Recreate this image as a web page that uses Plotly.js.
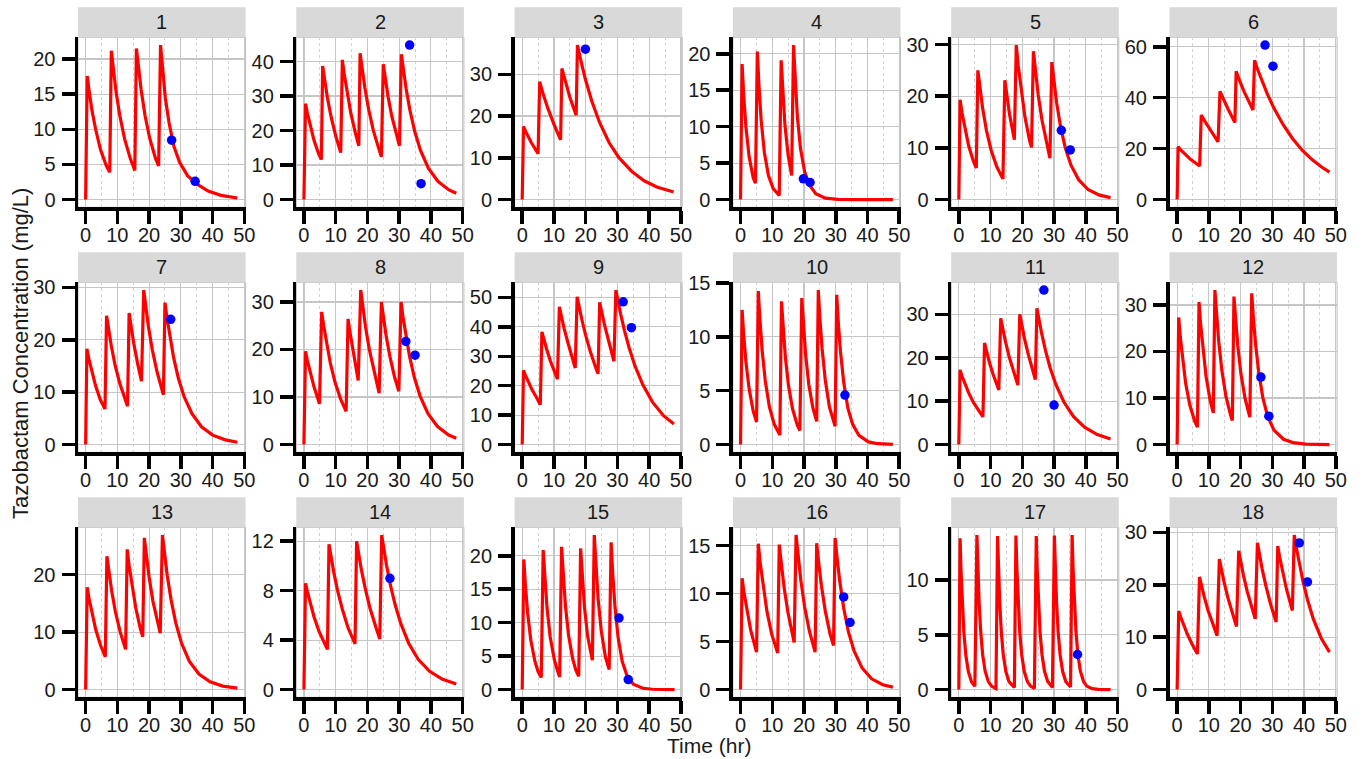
<!DOCTYPE html>
<html><head><meta charset="utf-8">
<script src="https://cdn.plot.ly/plotly-3.0.1.min.js"></script>
<style>html,body{margin:0;padding:0;background:#fff;} #chart{width:1362px;height:759px;}</style>
</head><body><div id="chart"></div>
<script>
const panelLabels = ['1','2','3','4','5','6','7','8','9','10','11','12','13','14','15','16','17','18'];
const yTickStep = [5,10,10,5,10,20,10,10,10,5,10,10,10,4,5,5,5,10];
const xTicks = [0,10,20,30,40,50];

const curveTime = [
 [0,0.5,1.1,2.0,3.2,4.7,6.5,7.6,8.1,8.7,9.6,10.8,12.3,14.1,15.5,16.0,16.6,17.5,18.7,20.2,22.0,23.0,23.6,24.2,25.1,26.3,27.8,29.6,32.1,35.1,38.6,42.6,47.8],
 [0,0.5,1.1,2.0,3.2,4.7,5.5,5.9,6.5,7.4,8.6,10.1,11.6,12.1,12.7,13.6,14.8,16.3,17.3,17.7,18.3,19.2,20.4,21.9,23.7,24.4,25.0,25.6,26.5,27.7,29.2,30.1,30.7,31.3,32.2,33.4,34.9,36.7,39.2,42.2,45.7,48.0],
 [0,0.4,1.4,2.9,5.0,5.5,6.5,8.0,10.0,12.1,12.5,13.5,15.0,17.0,17.4,18.4,19.9,21.9,24.4,27.4,30.4,34.4,38.4,42.4,47.7],
 [0,0.5,1.0,1.7,2.7,4.0,4.7,5.3,5.8,6.5,7.5,8.8,10.3,12.2,12.8,13.3,14.0,15.0,16.1,16.7,17.2,17.9,18.9,20.2,21.7,23.7,26.7,30.7,36.0,48.0],
 [0,0.4,1.0,1.9,3.1,4.6,5.5,6.0,6.6,7.5,8.7,10.2,12.0,13.9,14.5,15.1,16.0,17.5,18.1,18.7,19.6,20.8,22.3,22.9,23.5,24.1,25.0,26.2,27.7,28.7,29.3,29.9,30.8,32.0,33.5,35.3,37.8,40.8,44.3,47.8],
 [0,0.3,1.3,2.8,4.3,7.1,7.6,8.6,10.1,12.9,13.5,14.5,16.0,18.2,18.6,19.6,21.1,23.9,24.4,25.4,26.9,28.4,30.4,33.4,36.4,39.4,42.4,45.4,48.0],
 [0,0.4,1.0,1.9,3.1,4.6,6.1,6.6,7.2,8.1,9.3,10.8,12.6,13.2,13.7,14.3,15.2,16.4,17.6,18.3,18.9,19.8,21.0,22.5,24.5,25.0,25.6,26.5,27.7,29.2,31.0,33.5,36.5,40.0,44.0,47.8],
 [0,0.5,1.1,2.0,3.2,4.9,5.6,6.2,7.1,8.3,9.8,11.6,13.3,13.9,14.5,15.4,17.1,17.9,18.5,19.4,20.6,22.1,23.7,24.4,25.0,25.9,27.1,28.6,29.9,30.6,31.2,32.1,33.3,34.8,36.6,39.1,42.1,45.6,48.0],
 [0,0.4,1.0,1.9,3.1,4.6,5.7,6.2,6.8,7.7,8.9,10.4,11.1,11.7,12.3,13.2,14.4,15.9,16.7,17.3,17.9,18.8,20.0,21.5,23.3,23.9,24.4,25.0,25.9,27.1,28.9,29.5,30.1,31.0,32.2,33.7,35.5,38.0,41.0,44.5,47.8],
 [0,0.5,1.0,1.7,2.7,4.0,5.05,5.6,6.1,6.8,7.8,9.1,10.6,12.4,12.9,13.4,14.1,15.1,16.4,17.9,18.7,19.3,19.8,20.5,21.5,22.8,24.0,24.5,25.0,25.7,26.7,28.0,29.8,30.3,30.8,31.5,32.5,33.8,35.3,37.3,40.3,43.3,48.0],
 [0,0.4,1.0,1.9,3.1,4.6,6.4,7.6,8.1,8.7,9.6,10.8,12.6,13.2,13.8,14.7,15.9,17.4,18.6,19.2,19.8,20.7,21.9,23.4,24.1,24.6,25.2,26.1,27.3,28.8,30.6,33.1,36.1,39.6,43.6,47.8],
 [0,0.5,1.0,1.7,2.7,4.0,5.5,6.4,6.9,7.4,8.1,9.1,10.4,11.4,11.9,12.4,13.1,14.1,15.4,16.9,17.4,17.9,18.4,19.1,20.1,21.4,22.9,23.5,24.0,24.7,25.7,27.0,28.5,30.5,33.5,36.5,40.5,48.0],
 [0,0.5,1.1,2.0,3.2,4.7,6.2,6.7,7.3,8.2,9.4,10.9,12.6,13.1,13.7,14.6,15.8,17.3,18.0,18.5,19.1,20.0,21.2,22.7,23.5,24.2,24.8,25.7,26.9,28.4,30.2,32.7,35.7,39.2,43.2,47.8],
 [0,0.5,1.1,2.0,3.2,4.7,6.5,7.4,7.9,8.5,9.4,10.6,12.1,13.9,16.1,16.6,17.2,18.1,19.3,20.8,22.6,23.9,24.5,25.1,26.0,27.2,28.7,30.5,33.0,36.0,39.5,43.5,48.0],
 [0,0.5,1.0,1.7,2.7,4.0,5.0,6.0,6.6,7.1,7.8,8.8,10.1,11.0,11.8,12.4,12.9,13.6,14.6,15.9,16.9,17.8,18.4,18.9,19.6,20.6,21.4,22.1,22.7,23.2,23.9,24.9,26.2,27.4,28.0,28.5,29.2,30.2,31.5,33.0,35.0,38.0,41.0,48.0],
 [0,0.5,1.1,2.0,3.2,5.05,5.6,6.2,7.1,8.3,9.8,11.7,12.2,12.8,13.7,14.9,16.9,17.5,18.1,19.0,20.2,21.7,23.5,24.0,24.6,25.5,26.7,28.2,29.3,29.8,30.4,31.3,32.5,34.0,35.8,38.3,41.3,44.8,48.0],
 [0,0.4,0.7,1.1,1.6,2.2,3.0,4.0,5.05,5.7,6.0,6.4,6.9,7.5,8.3,9.3,10.3,11.7,12.2,12.5,12.9,13.4,14.0,14.8,15.8,17.5,18.0,18.3,18.7,19.2,19.8,20.6,21.6,22.6,23.8,24.4,24.7,25.1,25.6,26.2,27.0,28.0,29.5,30.1,30.4,30.8,31.3,31.9,32.7,33.7,35.2,35.7,36.0,36.4,36.9,37.5,38.3,39.3,40.3,42.0,44.0,47.8],
 [0,0.5,1.1,2.0,3.2,4.7,6.4,7.05,7.65,8.55,9.75,11.25,12.6,13.3,13.9,14.8,16.0,17.5,18.7,19.4,20.0,20.9,22.1,23.6,24.6,25.3,25.9,26.8,28.0,29.5,31.2,31.7,32.3,33.2,34.4,36.3,36.9,37.5,38.4,39.6,41.1,42.9,45.4,48.0]
];

const curveConc = [
 [0,17.6,15.5,12.7,9.9,7.1,4.85,3.9,21.2,18.6,15.3,11.9,8.6,5.8,4.15,21.5,18.9,15.6,12.0,8.7,5.9,4.8,22.0,18.5,14.5,10.9,7.6,5.3,3.4,2.2,1.2,0.6,0.22],
 [0,27.8,25.0,21.2,17.1,13.1,11.6,38.7,34.8,29.5,23.8,18.2,13.6,40.5,36.4,30.9,24.9,19.0,15.6,42.4,38.1,32.4,26.1,19.9,14.4,12.4,39.2,35.2,29.9,24.1,18.4,15.6,42.1,37.8,32.1,25.9,19.8,14.3,9.1,5.3,2.8,1.85],
 [0,17.5,15.8,13.6,11.0,28.2,25.5,22.0,18.0,14.3,31.4,28.4,24.5,20.2,37.0,33.5,28.8,23.6,18.4,13.6,10.1,6.8,4.5,3.0,1.8],
 [0,18.6,14.3,10.0,5.9,3.0,2.25,20.3,15.7,10.9,6.5,3.3,1.5,0.55,19.1,14.7,10.2,6.1,3.3,21.2,16.3,11.4,7.0,3.8,2.0,0.8,0.2,0.03,0.0,0.0],
 [0,19.3,16.8,13.7,10.4,7.4,6.1,25.0,21.8,17.7,13.4,9.5,6.3,4.0,23.1,20.1,16.4,11.6,29.9,26.0,21.2,16.1,11.4,10.1,28.7,25.0,20.3,15.4,10.9,8.0,26.6,23.2,18.8,14.3,10.1,6.7,3.8,1.9,0.85,0.38],
 [0,20.7,19.3,17.4,15.7,13.2,33.2,31.0,27.9,22.7,42.5,39.7,35.7,30.3,50.4,47.0,42.4,35.2,54.7,51.0,46.0,41.5,36.2,29.4,23.9,19.4,15.8,12.9,10.8],
 [0,18.3,16.4,14.0,11.3,8.6,6.8,24.6,22.1,18.8,15.1,11.6,8.4,7.3,25.1,22.5,19.2,15.4,12.1,29.5,26.5,22.5,18.1,13.9,9.5,27.1,24.3,20.7,16.7,12.7,9.2,5.9,3.4,1.8,0.9,0.45],
 [0,19.6,17.6,15.0,12.1,8.6,27.9,25.1,21.3,17.2,13.1,9.5,7.0,26.4,23.7,20.1,13.5,32.5,29.2,24.8,20.0,15.3,10.8,30.0,26.9,22.9,18.5,14.1,11.2,30.0,26.9,22.9,18.5,14.1,10.2,6.5,3.8,2.0,1.35],
 [0,25.2,23.6,21.3,18.6,15.8,13.5,38.3,35.8,32.4,28.3,23.9,22.2,46.8,43.8,39.5,34.6,29.3,26.0,50.2,46.9,42.4,37.1,31.4,25.7,24.1,48.3,45.2,40.8,35.7,28.3,52.5,49.1,44.4,38.8,32.8,26.8,20.3,14.5,9.8,7.0],
 [0,12.5,10.2,7.7,5.2,3.1,2.1,14.25,11.7,8.8,5.9,3.5,1.9,0.9,13.3,10.9,8.2,5.5,3.3,1.8,1.3,13.6,11.1,8.4,5.6,3.4,2.15,14.35,11.75,8.9,6.0,3.5,1.7,13.9,11.4,8.6,5.8,3.4,1.9,0.85,0.25,0.08,0.01],
 [0,17.2,15.8,14.0,11.9,9.7,7.6,6.4,23.4,21.6,19.0,16.2,12.6,29.1,26.8,23.7,20.1,16.4,13.7,30.0,27.6,24.4,20.7,16.9,15.0,31.4,28.9,25.6,21.7,17.6,13.8,9.8,6.5,4.0,2.3,1.3],
 [0,27.3,23.1,18.3,13.1,8.5,5.1,3.75,30.6,25.9,20.5,14.7,9.5,6.8,33.2,28.1,22.2,15.9,10.3,6.2,5.2,31.8,26.9,21.3,15.2,9.9,5.9,32.5,27.5,21.7,15.6,10.1,6.1,3.1,1.14,0.42,0.11,0.01],
 [0,17.8,15.8,13.2,10.4,7.7,5.7,23.2,20.6,17.2,13.5,10.0,7.0,24.4,21.6,18.1,14.2,10.5,9.2,26.4,23.4,19.6,15.4,11.4,9.8,26.9,23.9,19.9,15.7,11.6,8.1,4.9,2.7,1.34,0.6,0.24],
 [0,8.6,7.9,6.96,5.87,4.75,3.68,3.25,11.75,10.8,9.5,8.0,6.5,5.0,3.7,12.0,11.0,9.7,8.2,6.6,5.1,4.1,12.5,11.5,10.1,8.5,6.9,5.35,3.75,2.45,1.5,0.85,0.45],
 [0,19.45,15.6,11.5,7.4,4.2,2.7,1.8,20.85,16.7,12.3,7.9,4.5,3.0,1.9,21.35,17.1,12.6,8.1,4.6,2.9,2.0,21.1,16.9,12.4,8.0,5.7,4.4,23.1,18.5,13.6,8.8,4.9,3.0,22.0,17.4,12.5,7.8,4.2,2.1,0.8,0.2,0.05,0.0],
 [0,11.6,10.1,8.2,6.2,3.9,15.2,13.2,10.8,8.2,5.8,3.8,15.1,13.2,10.7,8.1,4.9,16.1,14.0,11.4,8.6,6.1,3.9,15.25,13.3,10.8,8.2,5.8,4.6,15.8,13.8,11.2,8.5,6.0,4.0,2.25,1.12,0.5,0.25],
 [0,13.8,10.8,7.8,5.2,3.15,1.64,0.72,0.3,14.1,11.0,7.9,5.3,3.2,1.68,0.73,0.32,0.1,14.0,10.9,7.9,5.2,3.2,1.67,0.73,0.2,14.05,11.0,7.9,5.25,3.2,1.67,0.73,0.32,0.1,14.0,10.9,7.9,5.2,3.2,1.67,0.73,0.2,14.05,11.0,7.9,5.25,3.2,1.67,0.73,0.25,14.1,11.0,7.9,5.3,3.2,1.68,0.73,0.32,0.08,0.02,0.0],
 [0,15.0,13.9,12.3,10.6,8.7,6.8,21.5,19.9,17.7,15.1,12.4,10.3,24.9,23.0,20.5,17.5,14.4,12.05,26.5,24.5,21.8,18.7,15.3,13.5,28.0,25.9,23.0,19.7,16.2,12.9,27.4,25.3,22.6,19.3,15.1,29.5,27.3,24.3,20.8,17.1,13.5,9.8,7.15]
];

const obsTime = [[27.1,34.5],[33.3,36.9],[19.9],[19.8,21.9],[32.3,35.1],[27.7,30.2],[26.8],[32.1,35.0],[31.8,34.4],[32.9],[26.8,30.0],[26.4,28.9],[],[27.1],[30.5,33.4],[32.5,34.5],[37.4],[38.5,41.05]];
const obsConc = [[8.45,2.6],[44.8,4.6],[36.0],[2.85,2.35],[13.4,9.6],[60.7,52.4],[23.9],[21.7,18.8],[48.5,39.7],[4.6],[35.6,9.1],[14.5,6.1],[],[9.0],[10.7,1.5],[9.65,7.0],[3.2],[28.0,20.55]];

const W = 1362, H = 759;
const PW = 167.6, PH = 170, STRIP = 30;
const colLeft = c => 78 + 218.3 * c;
const rowTop = r => 37.3 + 245 * r;
const FONT = '"Liberation Sans", Arial, Helvetica, sans-serif';
const TXT = '#1a1a1a';

const traces = [];
const layout = {
  width: W, height: H, autosize: false,
  margin: {l: 0, r: 0, t: 0, b: 0, pad: 0},
  paper_bgcolor: '#ffffff', plot_bgcolor: '#ffffff',
  showlegend: false,
  font: {family: FONT, size: 20, color: TXT},
  shapes: [], annotations: []
};

panelLabels.forEach((lab, i) => {
  const r = Math.floor(i / 6), c = i % 6;
  const n = i === 0 ? '' : String(i + 1);
  const xid = 'x' + n, yid = 'y' + n;
  const L = colLeft(c), T = rowTop(r);
  const ymax = Math.max(...curveConc[i], ...(obsConc[i].length ? obsConc[i] : [0]));
  const common = {
    showline: true, linecolor: '#000000', linewidth: 3.5,
    ticks: 'outside', ticklen: 13, tickwidth: 3.5, tickcolor: '#000000',
    showgrid: true, gridcolor: '#c6c6c6', gridwidth: 1.2,
    zeroline: false, fixedrange: true,
    tickfont: {family: FONT, size: 20, color: TXT}
  };
  layout['xaxis' + n] = Object.assign({}, common, {
    domain: [L / W, (L + PW) / W], anchor: yid,
    range: [-2.4, 50.4], tickmode: 'array', tickvals: xTicks, ticktext: xTicks.map(String),
    ticklabelstandoff: -6,
    minor: {tickmode: 'array', tickvals: xTicks.slice(0, -1).map(v => v + 5), showgrid: true,
            gridcolor: '#d2d2d2', gridwidth: 1, griddash: '3px,3px', ticks: ''}
  });
  layout['yaxis' + n] = Object.assign({}, common, {
    domain: [1 - (T + PH) / H, 1 - T / H], anchor: xid,
    range: [-0.05 * ymax, 1.05 * ymax], tickmode: 'linear', tick0: 0, dtick: yTickStep[i],
    ticklabelstandoff: 2
  });
  layout.shapes.push({type: 'rect', xref: 'paper', yref: 'paper', layer: 'below',
    x0: L / W, x1: (L + PW) / W, y0: 1 - (T + PH) / H, y1: 1 - T / H,
    line: {color: '#bdbdbd', width: 1}, fillcolor: 'rgba(0,0,0,0)'});
  layout.shapes.push({type: 'rect', xref: 'paper', yref: 'paper',
    x0: L / W, x1: (L + PW) / W, y0: 1 - T / H, y1: 1 - (T - STRIP) / H,
    line: {width: 0}, fillcolor: '#d9d9d9'});
  layout.annotations.push({xref: 'paper', yref: 'paper', x: (L + PW / 2) / W, y: 1 - (T - STRIP / 2) / H,
    text: lab, showarrow: false, xanchor: 'center', yanchor: 'middle',
    font: {family: FONT, size: 20, color: TXT}});

  traces.push({type: 'scatter', mode: 'lines', x: curveTime[i], y: curveConc[i],
    xaxis: xid, yaxis: yid, line: {color: '#ff0000', width: 3.2}, hoverinfo: 'skip'});
  if (obsTime[i].length) {
    traces.push({type: 'scatter', mode: 'markers', x: obsTime[i], y: obsConc[i],
      xaxis: xid, yaxis: yid, marker: {color: '#0000ff', size: 9.5}, hoverinfo: 'skip'});
  }
});

layout.annotations.push({xref: 'paper', yref: 'paper', x: 20 / W, y: 1 - 354 / H,
  text: 'Tazobactam Concentration (mg/L)', textangle: -90, showarrow: false,
  xanchor: 'center', yanchor: 'middle', font: {family: FONT, size: 22, color: TXT}});
layout.annotations.push({xref: 'paper', yref: 'paper', x: 709 / W, y: 1 - 745 / H,
  text: 'Time (hr)', showarrow: false, xanchor: 'center', yanchor: 'middle',
  font: {family: FONT, size: 21, color: TXT}});

Plotly.newPlot('chart', traces, layout, {staticPlot: true, displayModeBar: false});
</script></body></html>
